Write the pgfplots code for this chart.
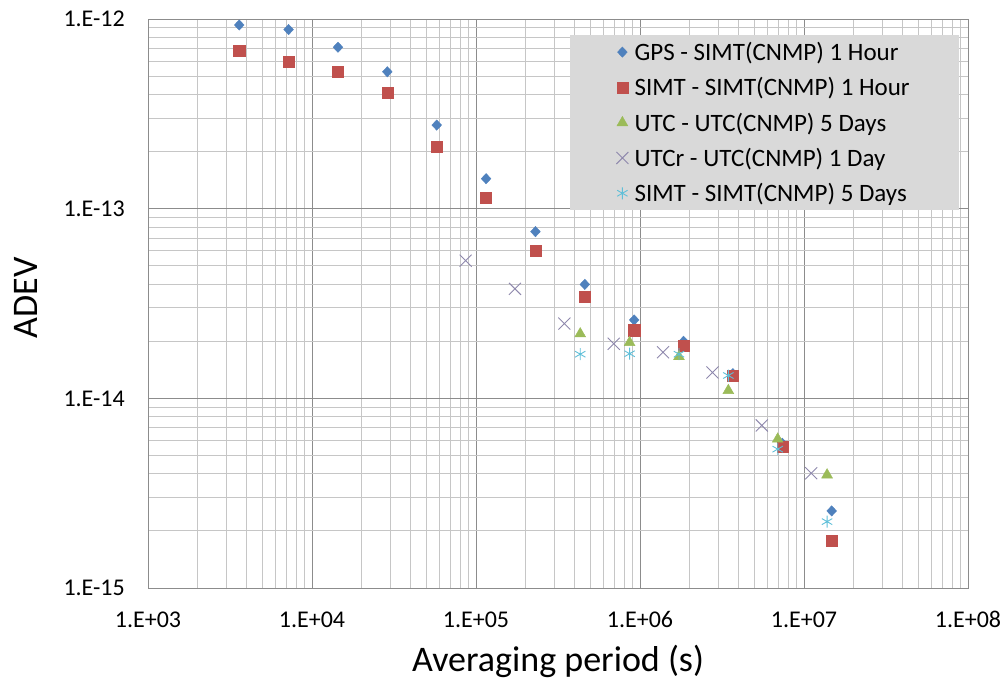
\documentclass[border=0pt]{standalone}
\usepackage{fontspec}
\setmainfont{Carlito}
\usepackage{pgfplots}
\pgfplotsset{compat=1.18}
\definecolor{cgps}{HTML}{4F81BD}
\definecolor{csimt}{HTML}{C0504D}
\definecolor{cutc}{HTML}{9BBB59}
\definecolor{cutcr}{HTML}{8E88AC}
\definecolor{csimt5}{HTML}{5FBFD8}
\definecolor{gmaj}{HTML}{8C8C8C}
\definecolor{gmin}{HTML}{C6C6C6}
\definecolor{legfill}{HTML}{D9D9D9}
\begin{document}
\begin{tikzpicture}
\begin{axis}[
  name=ax,
  scale only axis, width=820pt, height=569pt,
  xmode=log, ymode=log,
  xmin=1e3, xmax=1e8, ymin=1e-15, ymax=1e-12,
  xtick={1e3,1e4,1e5,1e6,1e7,1e8},
  xticklabels={1.E+03,1.E+04,1.E+05,1.E+06,1.E+07,1.E+08},
  ytick={1e-15,1e-14,1e-13,1e-12},
  yticklabels={1.E-15,1.E-14,1.E-13,1.E-12},
  /pgf/number format/assume math mode=true,
  major tick length=0pt, minor tick length=0pt,
  grid=both,
  major grid style={draw=gmaj, line width=0.9pt},
  minor grid style={draw=gmin, line width=0.9pt},
  axis line style={draw=gmaj, line width=0.9pt},
  tick label style={font=\fontsize{24}{27}\selectfont},
  xticklabel style={anchor=base, inner sep=0pt, yshift=-39pt},
  yticklabel style={anchor=east, inner sep=0pt, xshift=-23pt},
  every axis x label/.style={at={(axis description cs:0.5,0)}, anchor=base, yshift=-83pt, font=\fontsize{36}{42}\selectfont},
  every axis y label/.style={at={(axis description cs:0,0.51)}, xshift=-111pt, rotate=90, anchor=base, font=\fontsize{36}{42}\selectfont},
  xlabel={Averaging period (s)},
  ylabel={ADEV},
  legend image code/.code={\draw[#1] plot coordinates {(6pt,0pt)}; \path (0pt,-6pt) (15pt,6pt);},
  legend cell align=left,
  legend style={at={(axis description cs:0.5146,0.9719)}, anchor=north west,
    fill=legfill, draw=none, inner xsep=46pt, inner ysep=5pt, row sep=11.5pt,
    font=\fontsize{25}{29}\selectfont,
    nodes={inner xsep=3pt, inner ysep=2pt}},
]
\addplot[only marks, mark=diamond*, mark size=5.2pt, color=cgps, mark options={fill=cgps, draw=cgps, xscale=1.25}] coordinates {
(3600,9.3e-13) (7200,8.8e-13) (14400,7.1e-13) (28800,5.27e-13) (57600,2.76e-13)
(115200,1.44e-13) (230400,7.57e-14) (460800,3.99e-14) (921600,2.59e-14)
(1843200,2.0e-14) (3686400,1.35e-14) (7372800,5.8e-15) (14745600,2.55e-15)};
\addlegendentry{GPS - SIMT(CNMP) 1 Hour}
\addplot[only marks, mark=square*, mark size=5.6pt, color=csimt, mark options={fill=csimt, draw=csimt}] coordinates {
(3600,6.8e-13) (7200,5.93e-13) (14400,5.27e-13) (28800,4.07e-13) (57600,2.12e-13)
(115200,1.14e-13) (230400,6.0e-14) (460800,3.45e-14) (921600,2.29e-14)
(1843200,1.9e-14) (3686400,1.32e-14) (7372800,5.57e-15) (14745600,1.77e-15)};
\addlegendentry{SIMT - SIMT(CNMP) 1 Hour}
\addplot[only marks, mark=triangle*, mark size=6.3pt, color=cutc, mark options={fill=cutc, draw=cutc}] coordinates {
(432000,2.19e-14) (864000,1.97e-14) (1728000,1.66e-14) (3456000,1.1e-14)
(6912000,6.1e-15) (13824000,3.95e-15)};
\addlegendentry{UTC - UTC(CNMP) 5 Days}
\addplot[only marks, mark=x, mark size=8.5pt, color=cutcr, mark options={line width=0.9pt}] coordinates {
(86400,5.32e-14) (172800,3.78e-14) (345600,2.48e-14) (691200,1.94e-14)
(1382400,1.75e-14) (2764800,1.37e-14) (5529600,7.2e-15) (11059200,4.03e-15)};
\addlegendentry{UTCr - UTC(CNMP) 1 Day}
\addplot[only marks, mark=asterisk, mark size=6pt, color=csimt5, mark options={line width=0.9pt}] coordinates {
(432000,1.71e-14) (864000,1.72e-14) (1728000,1.71e-14) (3456000,1.32e-14)
(6912000,5.4e-15) (13824000,2.24e-15)};
\addlegendentry{SIMT - SIMT(CNMP) 5 Days}
\end{axis}
\pgfresetboundingbox
\path (ax.south west) ++(-148pt,-93pt) coordinate (bbsw);
\path (ax.north east) ++(40pt,19pt) coordinate (bbne);
\useasboundingbox (bbsw) rectangle (bbne);
\end{tikzpicture}
\end{document}
